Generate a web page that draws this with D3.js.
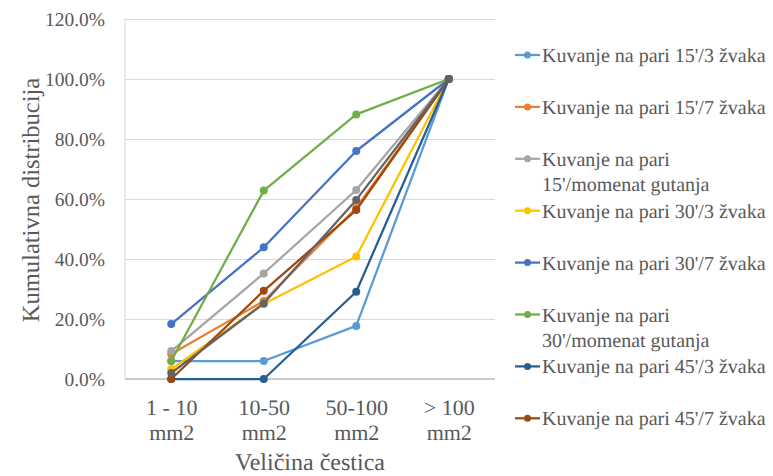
<!DOCTYPE html>
<html>
<head>
<meta charset="utf-8">
<script src="https://cdn.jsdelivr.net/npm/d3@7"></script>
<style>
  body { margin: 0; background: #fff; }
  text { text-rendering: geometricPrecision; }
</style>
</head>
<body>
<svg id="chart" width="773" height="476"></svg>
<script>
const categories = ["1 - 10 mm2", "10-50 mm2", "50-100 mm2", "> 100 mm2"];
const categoryLines = [["1 - 10", "mm2"], ["10-50", "mm2"], ["50-100", "mm2"], ["> 100", "mm2"]];
const yTicks = [0, 0.2, 0.4, 0.6, 0.8, 1.0, 1.2];

const seriesNames = [
  "Kuvanje na pari 15'/3 žvaka",
  "Kuvanje na pari 15'/7 žvaka",
  "Kuvanje na pari 15'/momenat gutanja",
  "Kuvanje na pari 30'/3 žvaka",
  "Kuvanje na pari 30'/7 žvaka",
  "Kuvanje na pari 30'/momenat gutanja",
  "Kuvanje na pari 45'/3 žvaka",
  "Kuvanje na pari 45'/7 žvaka",
  "Kuvanje na pari 45'/momenat gutanja"
];
const legendLines = [
  ["Kuvanje na pari 15'/3 žvaka"],
  ["Kuvanje na pari 15'/7 žvaka"],
  ["Kuvanje na pari", "15'/momenat gutanja"],
  ["Kuvanje na pari 30'/3 žvaka"],
  ["Kuvanje na pari 30'/7 žvaka"],
  ["Kuvanje na pari", "30'/momenat gutanja"],
  ["Kuvanje na pari 45'/3 žvaka"],
  ["Kuvanje na pari 45'/7 žvaka"]
];
const seriesColors = ["#5B9BD5", "#ED7D31", "#A5A5A5", "#FFC000", "#4472C4", "#70AD47", "#255E91", "#9E480E", "#636363"];

const s15_3 = [0.060, 0.060, 0.177, 1.0];
const s15_7 = [0.083, 0.260, 0.570, 1.0];
const s15_m = [0.093, 0.352, 0.630, 1.0];
const s30_3 = [0.033, 0.250, 0.408, 1.0];
const s30_7 = [0.183, 0.439, 0.760, 1.0];
const s30_m = [0.060, 0.628, 0.882, 1.0];
const s45_3 = [0.000, 0.000, 0.291, 1.0];
const s45_7 = [0.000, 0.294, 0.563, 1.0];
const s45_m = [0.020, 0.252, 0.597, 1.0];
const seriesValues = [s15_3, s15_7, s15_m, s30_3, s30_7, s30_m, s45_3, s45_7, s45_m];

const FONT = "Liberation Serif";
const svg = d3.select("#chart").attr("font-family", FONT);
const plot = { left: 125, right: 495, top: 19, bottom: 379 };
const textColor = "#595959";

const x = d3.scalePoint().domain(categories).range([plot.left, plot.right]).padding(0.5);
const y = d3.scaleLinear().domain([0, 1.2]).range([plot.bottom, plot.top]);

// gridlines
const grid = svg.append("g").attr("transform", `translate(${plot.left},0)`)
  .call(d3.axisLeft(y).tickValues(yTicks).tickSize(-(plot.right - plot.left)).tickFormat(""));
grid.select(".domain").remove();
grid.selectAll("line").attr("stroke", "#d9d9d9").attr("stroke-width", 1);

// vertical axis line
svg.append("line").attr("x1", plot.left).attr("x2", plot.left)
  .attr("y1", plot.top).attr("y2", plot.bottom)
  .attr("stroke", "#d9d9d9").attr("stroke-width", 1);

// y tick labels
const yAxis = svg.append("g").attr("transform", `translate(${plot.left - 20},0)`)
  .call(d3.axisLeft(y).tickValues(yTicks).tickSize(0).tickFormat(d3.format(".1%")));
yAxis.attr("font-family", FONT);
yAxis.select(".domain").remove();
yAxis.selectAll("text").attr("font-size", "19.5px").attr("fill", textColor)
  .attr("font-family", FONT).attr("x", 0).attr("dy", "0.35em");

// bottom axis
const xAxis = svg.append("g").attr("transform", `translate(0,${plot.bottom})`)
  .call(d3.axisBottom(x).tickSize(0).tickFormat(""));
xAxis.attr("font-family", FONT);
xAxis.select(".domain").attr("stroke", "#bfbfbf").attr("stroke-width", 1.3)
  .attr("d", `M${plot.left},0H${plot.right}`);
xAxis.selectAll(".tick").each(function(d, i) {
  const t = d3.select(this).append("text")
    .attr("fill", textColor).attr("font-size", "22px").attr("text-anchor", "middle")
    .attr("font-family", FONT);
  categoryLines[i].forEach((line, k) => {
    t.append("tspan").attr("x", 0).attr("y", 28 + k * 25).attr("dy", "0.35em").text(line);
  });
});

// axis titles
svg.append("text").attr("x", 310).attr("y", 470)
  .attr("text-anchor", "middle").attr("font-size", "24px").attr("fill", textColor)
  .attr("font-family", FONT).text("Veličina čestica");
svg.append("text").attr("transform", "translate(30,200) rotate(-90)").attr("dy", "0.35em")
  .attr("text-anchor", "middle").attr("font-size", "24.5px").attr("fill", textColor)
  .attr("font-family", FONT).text("Kumulativna distribucija");

// lines
const line = d3.line().x((d, i) => x(categories[i])).y(d => y(d));
const seriesG = svg.append("g");
seriesValues.forEach((vals, s) => {
  const g = seriesG.append("g");
  g.append("path").datum(vals).attr("d", line).attr("fill", "none")
    .attr("stroke", seriesColors[s]).attr("stroke-width", 2.25).attr("stroke-linejoin", "round");
  g.selectAll("circle").data(vals).join("circle")
    .attr("cx", (d, i) => x(categories[i])).attr("cy", d => y(d)).attr("r", 4)
    .attr("fill", seriesColors[s]);
});

// legend
const legend = svg.append("g");
legendLines.forEach((lines, i) => {
  const yy = 55 + i * 51.9;
  const g = legend.append("g");
  g.append("line").attr("x1", 515).attr("x2", 540).attr("y1", yy).attr("y2", yy)
    .attr("stroke", seriesColors[i]).attr("stroke-width", 2.25);
  g.append("circle").attr("cx", 527.5).attr("cy", yy).attr("r", 3.5).attr("fill", seriesColors[i]);
  const t = g.append("text").attr("font-size", "20px").attr("fill", textColor).attr("font-family", FONT);
  lines.forEach((ln, k) => {
    t.append("tspan").attr("x", 542).attr("y", yy + k * 25).attr("dy", "0.35em").text(ln);
  });
});
</script>
</body>
</html>
